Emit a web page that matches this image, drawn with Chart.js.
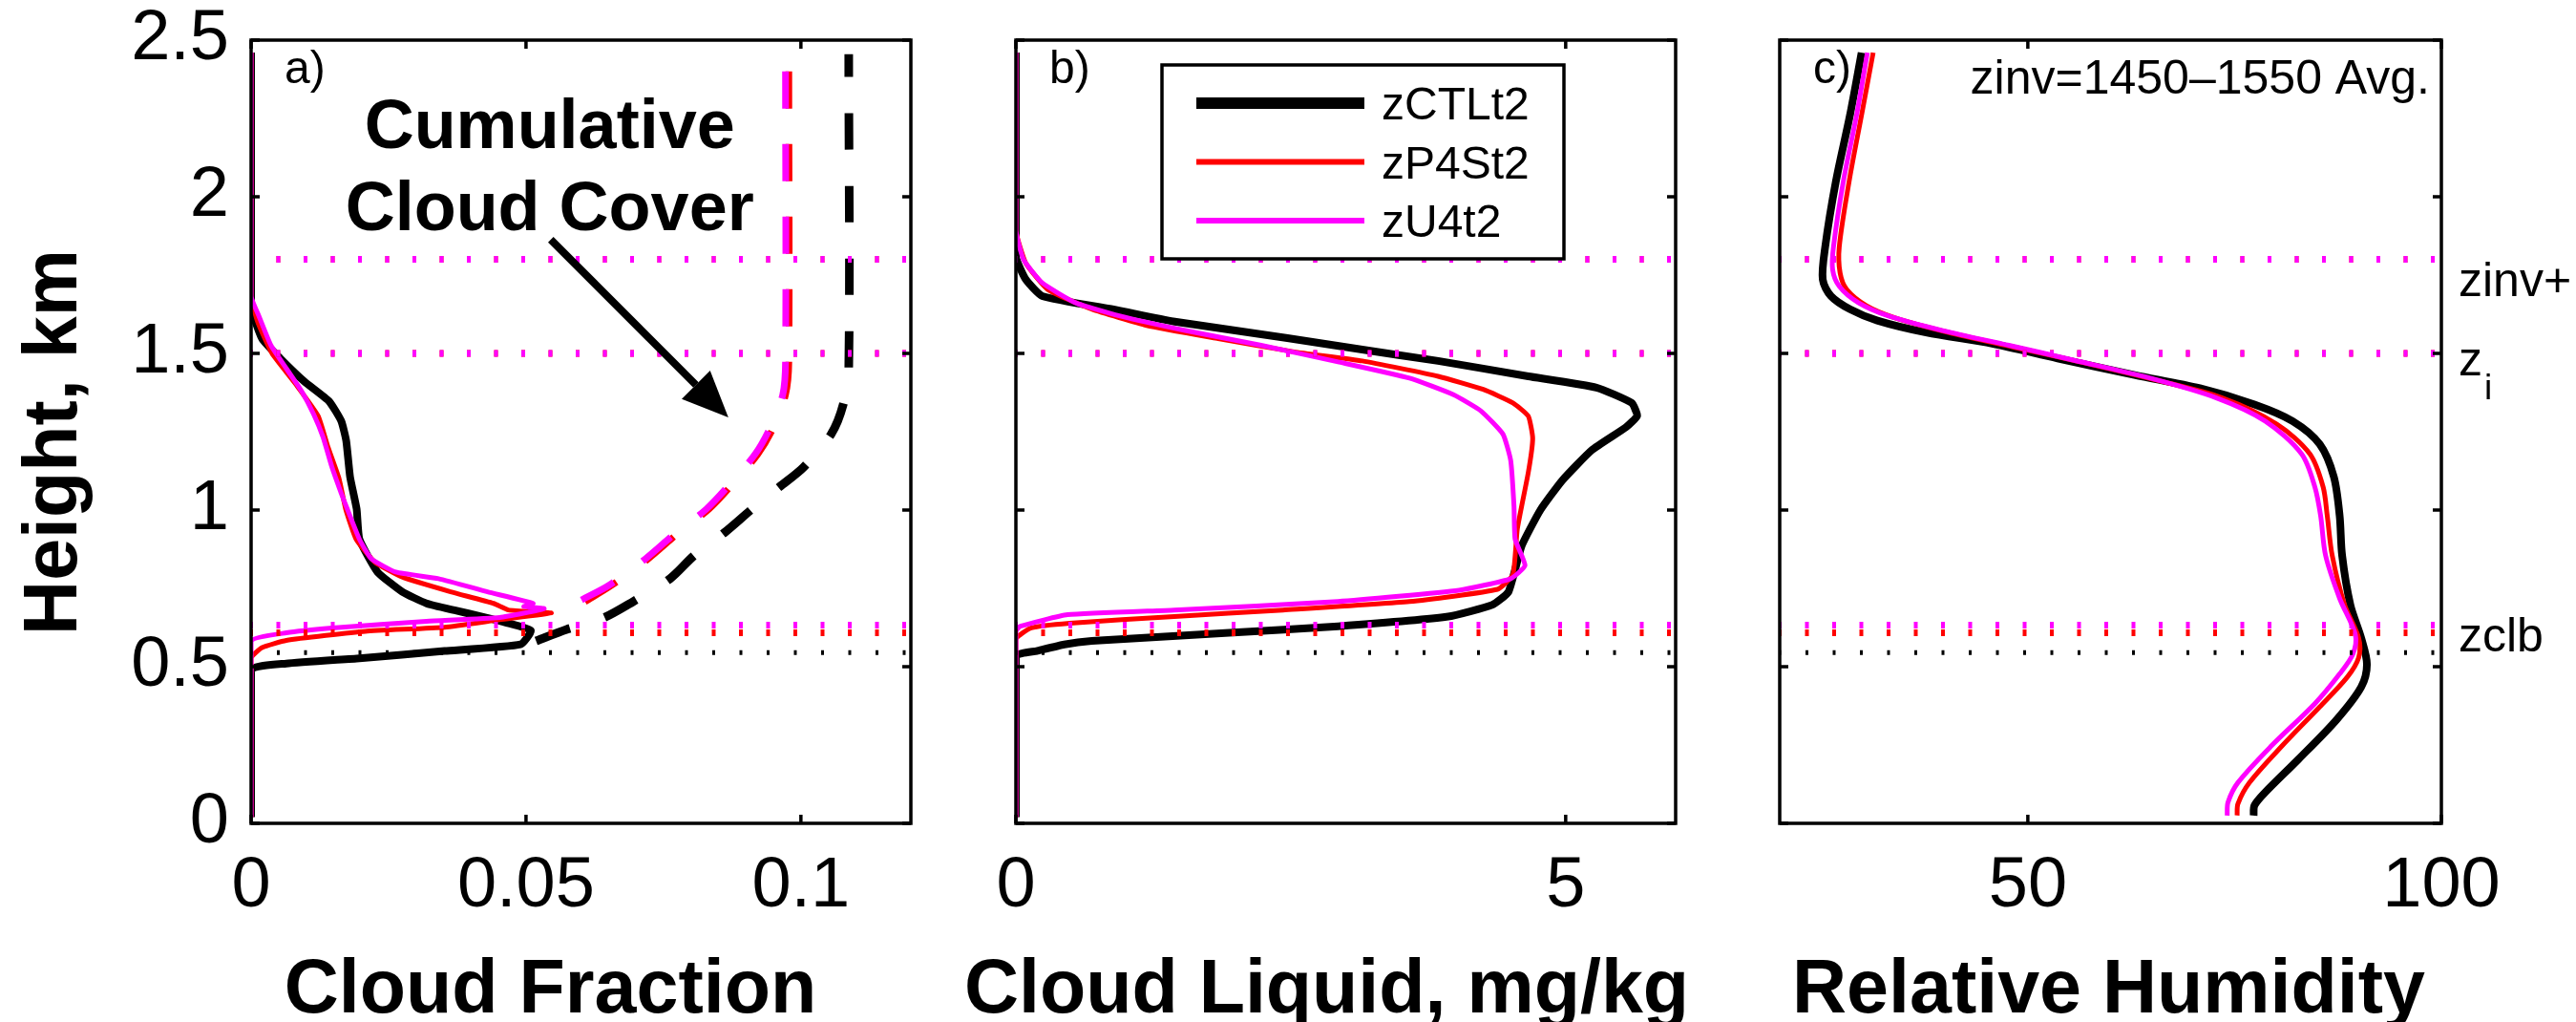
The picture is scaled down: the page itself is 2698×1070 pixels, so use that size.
<!DOCTYPE html>
<html>
<head>
<meta charset="utf-8">
<title>Cloud fraction, cloud liquid and relative humidity profiles</title>
<script src="https://cdn.jsdelivr.net/npm/chart.js@4.4.1/dist/chart.umd.min.js"></script>
<style>
  html, body { margin: 0; padding: 0; background: #fff; }
  #wrap { position: relative; width: 2698px; height: 1070px; overflow: hidden; }
  #wrap canvas { position: absolute; left: 0; top: 0; }
</style>
</head>
<body>
<div id="wrap">
  <canvas id="cfChart" width="2698" height="1070"></canvas>
  <canvas id="clChart" width="2698" height="1070"></canvas>
  <canvas id="rhChart" width="2698" height="1070"></canvas>
</div>
<script>
// ---- series names ----
const seriesNames = ["zCTLt2", "zP4St2", "zU4t2"];

// ---- axis ranges / ticks ----
const heightRange = [0, 2.5];
const heightTicks = [0, 0.5, 1, 1.5, 2, 2.5];
const cfRange = [0, 0.12];
const cfTicks = [0, 0.05, 0.1];
const clRange = [0, 6];
const clTicks = [0, 5];
const rhRange = [20, 100];
const rhTicks = [50, 100];

// ---- reference levels (km): zinv+, zi, cloud base ----
const refLevelsCtl = [1.8, 1.5, 0.545];
const refLevelsP4 = [1.8, 1.5, 0.608];
const refLevelsU4 = [1.8, 1.5, 0.633];

// ---- a) cloud fraction ----
const cfCtlZ = [0.02, 0.49, 0.51, 0.527, 0.55, 0.571, 0.615, 0.64, 0.66, 0.68, 0.702, 0.739, 0.802, 0.907, 1.003, 1.106, 1.221, 1.284, 1.347, 1.41, 1.484, 1.547, 1.652, 2.46];
const cfCtl  = [0, 0, 0.0064, 0.0197, 0.0352, 0.049, 0.0509, 0.0465, 0.042, 0.037, 0.0319, 0.0275, 0.023, 0.0197, 0.0192, 0.018, 0.0173, 0.0164, 0.0142, 0.0097, 0.0053, 0.002, 0, 0];
const cfP4Z = [0.02, 0.527, 0.561, 0.584, 0.613, 0.626, 0.65, 0.671, 0.681, 0.702, 0.739, 0.786, 0.834, 0.907, 1.003, 1.1, 1.2, 1.3, 1.4, 1.5, 1.6, 1.683, 2.46];
const cfP4  = [0, 0, 0.002, 0.0064, 0.0208, 0.0352, 0.0452, 0.0546, 0.0468, 0.0441, 0.0363, 0.0275, 0.0225, 0.0191, 0.0172, 0.016, 0.014, 0.0122, 0.0082, 0.0038, 0.0012, 0, 0];
const cfU4Z = [0.02, 0.58, 0.608, 0.624, 0.645, 0.657, 0.685, 0.692, 0.702, 0.739, 0.781, 0.802, 0.844, 0.907, 1.003, 1.053, 1.137, 1.232, 1.305, 1.379, 1.452, 1.526, 1.62, 1.683, 2.46];
const cfU4  = [0, 0, 0.0064, 0.0153, 0.0319, 0.0452, 0.0533, 0.0496, 0.0513, 0.043, 0.0341, 0.0263, 0.0219, 0.0197, 0.0175, 0.0164, 0.0147, 0.0131, 0.0114, 0.0092, 0.0064, 0.0036, 0.0014, 0, 0];

// cumulative cloud cover, listed from the top down
const ccCtlZ = [2.455, 1.45, 1.337, 1.242, 1.137, 1.074, 1.003, 0.928, 0.855, 0.781, 0.708, 0.655, 0.619, 0.582];
const ccCtl  = [0.1087, 0.1087, 0.1077, 0.1055, 0.1005, 0.0961, 0.0911, 0.0861, 0.0806, 0.0762, 0.0695, 0.064, 0.0574, 0.0518];
const ccP4Z = [2.4, 1.473, 1.368, 1.263, 1.179, 1.085, 1.003, 0.928, 0.844, 0.76, 0.706];
const ccP4  = [0.0978, 0.0978, 0.0972, 0.095, 0.0922, 0.0877, 0.0833, 0.0778, 0.0722, 0.0656, 0.0606];
const ccU4Z = [2.4, 1.473, 1.368, 1.263, 1.179, 1.085, 1.003, 0.928, 0.844, 0.76, 0.713];
const ccU4  = [0.0972, 0.0972, 0.0967, 0.0944, 0.0917, 0.0872, 0.0828, 0.0773, 0.0717, 0.0651, 0.0601];

// ---- b) cloud liquid, mg/kg ----
const clCtlZ = [0.02, 0.534, 0.55, 0.571, 0.582, 0.608, 0.629, 0.66, 0.697, 0.739, 0.886, 1.0, 1.095, 1.192, 1.265, 1.301, 1.342, 1.391, 1.427, 1.476, 1.512, 1.549, 1.602, 1.638, 1.683, 1.736, 1.809, 2.46];
const clCtl  = [0, 0, 0.19, 0.44, 0.69, 1.94, 2.93, 3.93, 4.33, 4.48, 4.6, 4.77, 4.97, 5.24, 5.55, 5.65, 5.6, 5.28, 4.66, 3.84, 3.15, 2.47, 1.43, 0.92, 0.24, 0.09, 0, 0];
const clP4Z = [0.02, 0.587, 0.624, 0.639, 0.66, 0.681, 0.708, 0.747, 0.794, 0.939, 1.12, 1.229, 1.3, 1.342, 1.385, 1.427, 1.476, 1.505, 1.547, 1.589, 1.641, 1.704, 1.788, 1.893, 2.46];
const clP4  = [0, 0, 0.14, 0.49, 1.44, 2.43, 3.58, 4.38, 4.52, 4.56, 4.66, 4.7, 4.66, 4.52, 4.25, 3.84, 3.15, 2.53, 1.84, 1.19, 0.69, 0.29, 0.09, 0, 0];
const clU4Z = [0.02, 0.613, 0.629, 0.666, 0.681, 0.708, 0.744, 0.781, 0.823, 0.907, 1.012, 1.158, 1.242, 1.316, 1.368, 1.421, 1.473, 1.526, 1.573, 1.62, 1.662, 1.725, 1.799, 1.893, 2.46];
const clU4  = [0, 0, 0.04, 0.47, 1.44, 2.93, 4.03, 4.5, 4.63, 4.54, 4.53, 4.5, 4.43, 4.23, 3.98, 3.58, 2.93, 2.23, 1.54, 0.94, 0.54, 0.24, 0.07, 0, 0];

// ---- c) relative humidity, % ----
const rhCtlZ = [0.025, 0.057, 0.099, 0.204, 0.33, 0.435, 0.508, 0.592, 0.697, 0.855, 0.982, 1.106, 1.21, 1.284, 1.337, 1.389, 1.431, 1.484, 1.531, 1.567, 1.605, 1.641, 1.683, 1.736, 1.84, 2.05, 2.261, 2.46];
const rhCtl  = [77.3, 77.4, 78.7, 82.7, 87.3, 90.3, 91.0, 90.3, 89.0, 88.0, 87.7, 87.0, 85.3, 82.0, 77.4, 70.8, 62.9, 53.6, 45.7, 37.7, 31.8, 28.5, 26.2, 25.2, 25.5, 26.8, 28.5, 29.9];
const rhP4Z = [0.025, 0.062, 0.13, 0.246, 0.372, 0.466, 0.529, 0.592, 0.697, 0.855, 0.982, 1.074, 1.179, 1.274, 1.358, 1.415, 1.473, 1.52, 1.567, 1.615, 1.652, 1.704, 1.757, 1.84, 2.05, 2.261, 2.46];
const rhP4  = [75.3, 75.4, 76.8, 80.7, 85.3, 88.6, 90.0, 90.0, 88.3, 86.8, 86.2, 85.7, 84.1, 80.1, 73.5, 65.5, 56.3, 48.3, 40.4, 33.8, 30.5, 28.1, 27.3, 27.2, 28.4, 29.9, 31.3];
const rhU4Z = [0.025, 0.067, 0.13, 0.246, 0.382, 0.477, 0.54, 0.602, 0.718, 0.855, 0.982, 1.074, 1.179, 1.284, 1.358, 1.421, 1.478, 1.526, 1.573, 1.62, 1.662, 1.714, 1.767, 1.84, 2.05, 2.261, 2.46];
const rhU4  = [74.1, 74.2, 75.4, 79.4, 84.7, 87.7, 89.3, 89.6, 87.7, 86.0, 85.4, 84.7, 83.1, 78.7, 72.8, 64.8, 55.6, 47.7, 39.7, 33.1, 29.5, 27.2, 26.4, 26.5, 27.7, 29.3, 30.6];

// ---- annotation in panel a: arrow from label to the cumulative curves ----
const arrowFrom = [0.0545, 1.863];
const arrowTo = [0.0868, 1.296];

const FONT = "'Liberation Sans', Arial, Helvetica, sans-serif";
const BLACK = "#000000", RED = "#ff0000", MAGENTA = "#ff00ff";

const pts = (xs, zs) => xs.map((v, i) => ({ x: v, y: zs[i] }));

const profile = (label, xs, zs, color, width, order, tension, dash, dashOffset) => ({
  label,
  data: pts(xs, zs),
  borderColor: color,
  backgroundColor: color,
  borderWidth: width,
  borderDash: dash || [],
  borderDashOffset: dashOffset || 0,
  borderJoinStyle: "round",
  pointRadius: 0,
  showLine: true,
  tension: tension,
  order: order
});

// dotted horizontal lines across the whole panel
const levelLines = (range) => {
  const sets = [];
  [[refLevelsCtl, BLACK, 5, [3, 25.5], 7], [refLevelsP4, RED, 7, [4, 24.5], 6], [refLevelsU4, MAGENTA, 7, [4, 24.5], 5]]
    .forEach(([levels, color, w, dash, order]) => {
      levels.forEach(lvl => sets.push({
        data: [{ x: range[0], y: lvl }, { x: range[1], y: lvl }],
        borderColor: color,
        borderWidth: w,
        borderDash: dash,
        borderDashOffset: dash[0] / 2,
        borderCapStyle: "butt",
        pointRadius: 0,
        showLine: true,
        tension: 0,
        order: order
      }));
    });
  return sets;
};

const tickFont = { family: FONT, size: 74 };

const makeScales = (range, ticks, withYLabels) => ({
  x: {
    type: "linear",
    min: range[0],
    max: range[1],
    afterBuildTicks: s => { s.ticks = ticks.map(v => ({ value: v })); },
    afterFit: s => { s.height = 208; s.paddingLeft = 0; s.paddingRight = 0; },
    grid: { display: false, drawTicks: false },
    border: { display: false },
    ticks: { font: tickFont, color: BLACK, padding: 22, maxRotation: 0, autoSkip: false, callback: v => String(v) }
  },
  y: {
    type: "linear",
    min: heightRange[0],
    max: heightRange[1],
    display: withYLabels,
    afterBuildTicks: s => { s.ticks = heightTicks.map(v => ({ value: v })); },
    // fixed width, and no extra room for the end labels so all panels line up
    afterFit: s => { if (withYLabels) s.width = 263; s.paddingTop = 0; s.paddingBottom = 0; },
    grid: { display: false, drawTicks: false },
    border: { display: false },
    ticks: { font: tickFont, color: BLACK, padding: 23, autoSkip: false, callback: v => String(v) }
  }
});

// box around each panel with inward ticks on all four sides, panel letter and x title
const panelFrame = {
  id: "panelFrame",
  afterDatasetsDraw(chart, args, opts) {
    const { ctx, chartArea: a, scales } = chart;
    ctx.save();
    ctx.strokeStyle = BLACK;
    ctx.lineWidth = 3.5;
    ctx.beginPath();
    opts.xTicks.forEach(v => {
      const px = scales.x.getPixelForValue(v);
      ctx.moveTo(px, a.bottom); ctx.lineTo(px, a.bottom - 9);
      ctx.moveTo(px, a.top); ctx.lineTo(px, a.top + 9);
    });
    heightTicks.forEach(v => {
      const py = scales.y.getPixelForValue(v);
      ctx.moveTo(a.left, py); ctx.lineTo(a.left + 9, py);
      ctx.moveTo(a.right, py); ctx.lineTo(a.right - 9, py);
    });
    ctx.stroke();
    ctx.strokeRect(a.left, a.top, a.right - a.left, a.bottom - a.top);

    ctx.fillStyle = BLACK;
    ctx.textBaseline = "alphabetic";
    ctx.font = "48px " + FONT;
    ctx.textAlign = "left";
    ctx.fillText(opts.letter, a.left + 35, a.top + 45);

    ctx.font = "bold 79px " + FONT;
    ctx.textAlign = "center";
    ctx.fillText(opts.title, (a.left + a.right) / 2 + opts.titleShift, 1060);

    if (opts.yTitle) {
      ctx.translate(80, (a.top + a.bottom) / 2 + 11);
      ctx.rotate(-Math.PI / 2);
      ctx.fillText(opts.yTitle, 0, 0);
    }
    ctx.restore();
  }
};

// cumulative cloud cover label and arrow (panel a)
const coverNote = {
  id: "coverNote",
  afterDatasetsDraw(chart) {
    const { ctx, scales: { x, y } } = chart;
    ctx.save();
    ctx.fillStyle = BLACK;
    ctx.font = "bold 72px " + FONT;
    ctx.textAlign = "center";
    ctx.textBaseline = "alphabetic";
    ctx.fillText("Cumulative", x.getPixelForValue(0.0543), y.getPixelForValue(2.155));
    ctx.fillText("Cloud Cover", x.getPixelForValue(0.0543), y.getPixelForValue(1.893));

    const x0 = x.getPixelForValue(arrowFrom[0]), y0 = y.getPixelForValue(arrowFrom[1]);
    const x1 = x.getPixelForValue(arrowTo[0]), y1 = y.getPixelForValue(arrowTo[1]);
    const ang = Math.atan2(y1 - y0, x1 - x0);
    const head = 48, half = 21;
    const bx = x1 - head * Math.cos(ang), by = y1 - head * Math.sin(ang);
    ctx.strokeStyle = BLACK;
    ctx.lineWidth = 8;
    ctx.beginPath();
    ctx.moveTo(x0, y0);
    ctx.lineTo(bx, by);
    ctx.stroke();
    ctx.beginPath();
    ctx.moveTo(x1, y1);
    ctx.lineTo(bx + half * Math.sin(ang), by - half * Math.cos(ang));
    ctx.lineTo(bx - half * Math.sin(ang), by + half * Math.cos(ang));
    ctx.closePath();
    ctx.fill();
    ctx.restore();
  }
};

// legend box inside panel b
const profileLegend = {
  id: "profileLegend",
  afterDatasetsDraw(chart) {
    const { ctx, chartArea: a } = chart;
    const left = a.left + 153, top = a.top + 26, w = 421, h = 203;
    const widths = [12, 6, 6];
    const colors = [BLACK, RED, MAGENTA];
    ctx.save();
    ctx.fillStyle = "#ffffff";
    ctx.fillRect(left, top, w, h);
    ctx.strokeStyle = BLACK;
    ctx.lineWidth = 3.5;
    ctx.strokeRect(left, top, w, h);
    ctx.font = "48px " + FONT;
    ctx.textAlign = "left";
    ctx.textBaseline = "alphabetic";
    seriesNames.forEach((name, i) => {
      const ly = top + 40 + i * 61.5;
      ctx.strokeStyle = colors[i];
      ctx.lineWidth = widths[i];
      ctx.lineCap = "butt";
      ctx.beginPath();
      ctx.moveTo(left + 36, ly);
      ctx.lineTo(left + 212, ly);
      ctx.stroke();
      ctx.fillStyle = BLACK;
      ctx.fillText(name, left + 230, ly + 17);
    });
    ctx.restore();
  }
};

// averaging note and level names (panel c)
const levelNotes = {
  id: "levelNotes",
  afterDatasetsDraw(chart) {
    const { ctx, chartArea: a, scales: { y } } = chart;
    ctx.save();
    ctx.fillStyle = BLACK;
    ctx.textBaseline = "alphabetic";
    ctx.font = "50px " + FONT;
    ctx.textAlign = "right";
    ctx.fillText("zinv=1450\u20131550 Avg.", a.right - 12, a.top + 56);

    ctx.textAlign = "left";
    const lx = a.right + 18;
    ctx.fillText("zinv+", lx, y.getPixelForValue(refLevelsU4[0]) + 38);
    const zy = y.getPixelForValue(refLevelsU4[1]) + 23;
    ctx.fillText("z", lx, zy);
    const zw = ctx.measureText("z").width;
    ctx.font = "37px " + FONT;
    ctx.fillText("i", lx + zw + 2, zy + 25);
    ctx.font = "50px " + FONT;
    ctx.fillText("zclb", lx, y.getPixelForValue(0.6) + 17);
    ctx.restore();
  }
};

const baseOptions = (padding, scales, pluginOpts) => ({
  responsive: false,
  animation: false,
  devicePixelRatio: 1,
  events: [],
  layout: { padding },
  scales,
  plugins: Object.assign({ legend: { display: false }, tooltip: { enabled: false } }, pluginOpts)
});

// a) Cloud fraction
new Chart(document.getElementById("cfChart").getContext("2d"), {
  type: "scatter",
  data: {
    datasets: [
      profile(seriesNames[0], cfCtl, cfCtlZ, BLACK, 8, 30, 0.15),
      profile(seriesNames[1], cfP4, cfP4Z, RED, 5, 20, 0.15),
      profile(seriesNames[2], cfU4, cfU4Z, MAGENTA, 5, 10, 0.15),
      profile("cum " + seriesNames[0], ccCtl, ccCtlZ, BLACK, 9, 29, 0.3, [38, 38], 14),
      profile("cum " + seriesNames[1], ccP4, ccP4Z, RED, 7, 19, 0.3, [39, 37], 0),
      profile("cum " + seriesNames[2], ccU4, ccU4Z, MAGENTA, 7, 9, 0.3, [39, 37], 0),
      ...levelLines(cfRange)
    ]
  },
  options: baseOptions({ left: 0, top: 42, right: 1744, bottom: 0 }, makeScales(cfRange, cfTicks, true), {
    panelFrame: { xTicks: cfTicks, letter: "a)", title: "Cloud Fraction", titleShift: -32, yTitle: "Height, km" }
  }),
  plugins: [panelFrame, coverNote]
});

// b) Cloud liquid
new Chart(document.getElementById("clChart").getContext("2d"), {
  type: "scatter",
  data: {
    datasets: [
      profile(seriesNames[0], clCtl, clCtlZ, BLACK, 8, 30, 0.15),
      profile(seriesNames[1], clP4, clP4Z, RED, 5, 20, 0.15),
      profile(seriesNames[2], clU4, clU4Z, MAGENTA, 5, 10, 0.15),
      ...levelLines(clRange)
    ]
  },
  options: baseOptions({ left: 1064, top: 42, right: 943, bottom: 0 }, makeScales(clRange, clTicks, false), {
    panelFrame: { xTicks: clTicks, letter: "b)", title: "Cloud Liquid, mg/kg", titleShift: -20 }
  }),
  plugins: [panelFrame, profileLegend]
});

// c) Relative humidity
new Chart(document.getElementById("rhChart").getContext("2d"), {
  type: "scatter",
  data: {
    datasets: [
      profile(seriesNames[0], rhCtl, rhCtlZ, BLACK, 8, 30, 0.3),
      profile(seriesNames[1], rhP4, rhP4Z, RED, 5, 20, 0.3),
      profile(seriesNames[2], rhU4, rhU4Z, MAGENTA, 5, 10, 0.3),
      ...levelLines(rhRange)
    ]
  },
  options: baseOptions({ left: 1864, top: 42, right: 141, bottom: 0 }, makeScales(rhRange, rhTicks, false), {
    panelFrame: { xTicks: rhTicks, letter: "c)", title: "Relative Humidity", titleShift: -2 }
  }),
  plugins: [panelFrame, levelNotes]
});
</script>
</body>
</html>
